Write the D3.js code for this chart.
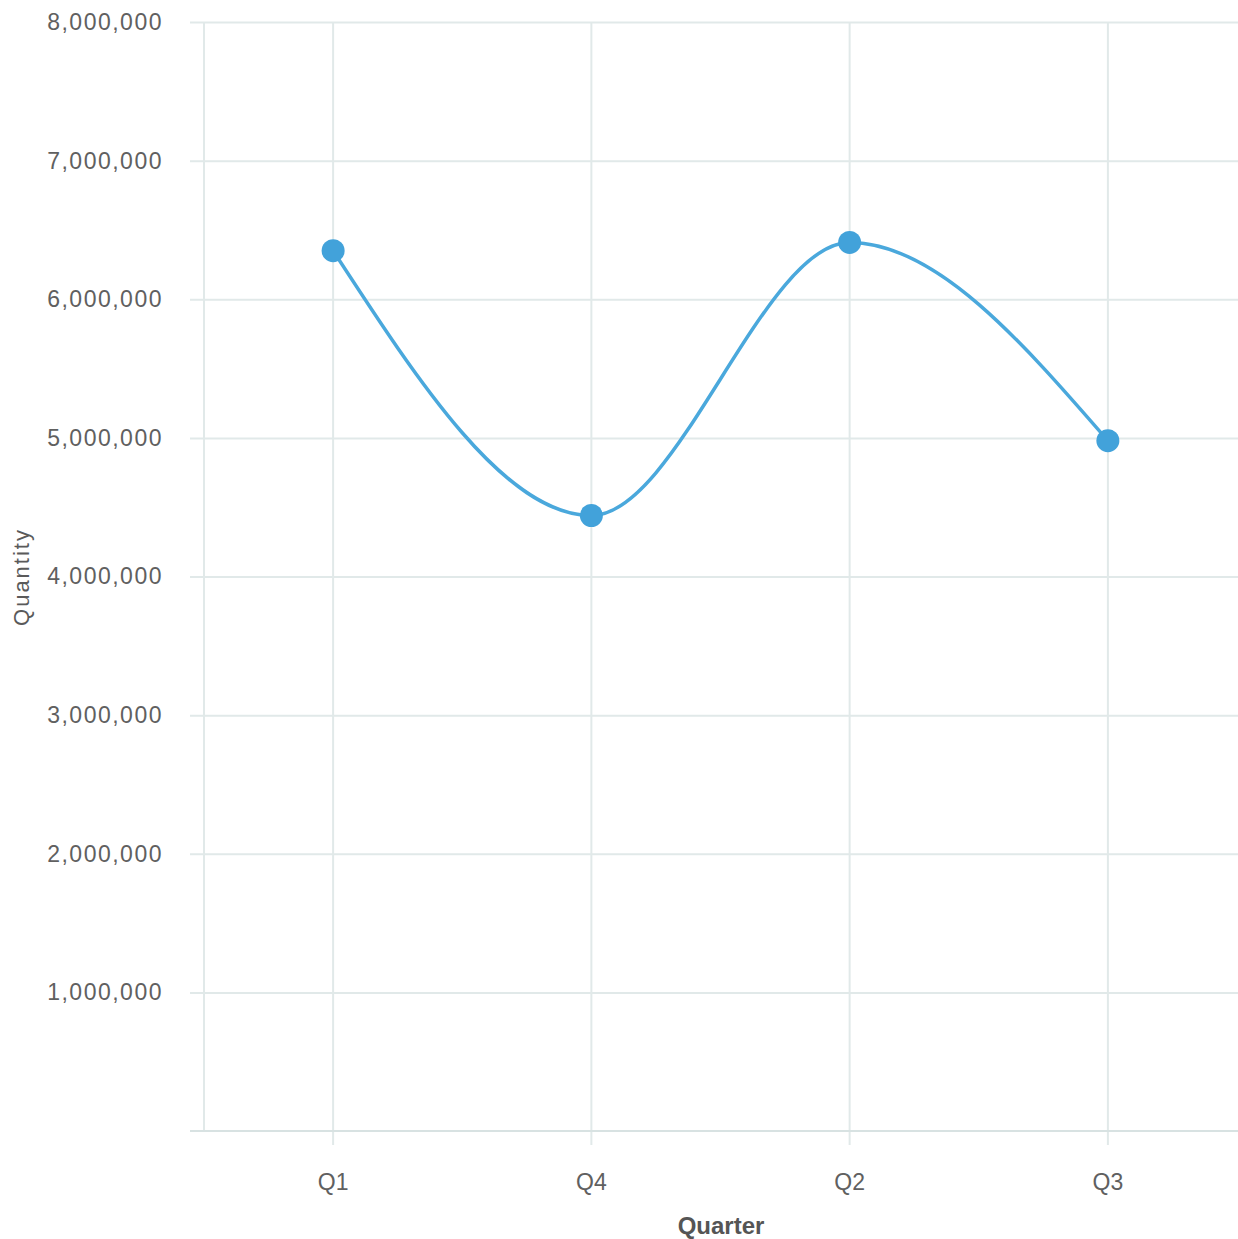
<!DOCTYPE html>
<html>
<head>
<meta charset="utf-8">
<script src="https://cdn.jsdelivr.net/npm/d3@7"></script>
<style>
  html, body { margin: 0; padding: 0; background: #fff; }
  svg { display: block; }
  text { font-family: "Liberation Sans", Arial, sans-serif; }
</style>
</head>
<body>
<script>
const quarters = ["Q1", "Q4", "Q2", "Q3"];
const quantities = [6350000, 4440000, 6410000, 4980000];
const yTicks = [1000000, 2000000, 3000000, 4000000, 5000000, 6000000, 7000000, 8000000];
const xTitle = "Quarter";
const yTitle = "Quantity";

const W = 1238, H = 1239;
const m = { left: 204, right: 1, top: 22, bottom: 108 };
const svg = d3.select("body").append("svg").attr("width", W).attr("height", H);

const x = d3.scaleBand().domain(quarters).range([m.left, W - m.right]);
const y = d3.scaleLinear().domain([0, 8000000]).range([H - m.bottom, m.top]);
const gridColor = "#e1e9e9";
const textColor = "#606060";

// horizontal grid + y axis
const gy = svg.append("g").attr("transform", `translate(${m.left},0)`)
  .call(d3.axisLeft(y).tickValues(yTicks).tickFormat(d3.format(",")).tickSize(14).tickPadding(27));
gy.select(".domain").remove();
gy.selectAll(".tick line").attr("stroke", gridColor).attr("stroke-width", 2)
  .attr("x2", -14).attr("x1", W - m.left);
gy.selectAll(".tick text").attr("fill", textColor).style("font-size", "23px").attr("letter-spacing", "1.5");

// vertical grid at category centers
svg.append("g").selectAll("line").data(quarters).join("line")
  .attr("x1", d => x(d) + x.bandwidth() / 2).attr("x2", d => x(d) + x.bandwidth() / 2)
  .attr("y1", m.top).attr("y2", H - m.bottom + 14)
  .attr("stroke", gridColor).attr("stroke-width", 2);

// left axis line
svg.append("line").attr("x1", m.left).attr("x2", m.left).attr("y1", m.top).attr("y2", H - m.bottom)
  .attr("stroke", gridColor).attr("stroke-width", 2);

// x axis
const gx = svg.append("g").attr("transform", `translate(0,${H - m.bottom})`)
  .call(d3.axisBottom(x).tickSize(0).tickPadding(43));
gx.select(".domain").remove();
gx.selectAll(".tick text").attr("fill", textColor).style("font-size", "23px");
svg.append("line").attr("x1", 190).attr("x2", W).attr("y1", y(0)).attr("y2", y(0))
  .attr("stroke", "#d8e2e2").attr("stroke-width", 2);

// titles
svg.append("text").attr("x", (m.left + W) / 2).attr("y", 1234).attr("text-anchor", "middle")
  .attr("fill", "#555").style("font-size", "24px").style("font-weight", "bold").text(xTitle);
svg.append("text").attr("transform", `translate(29,${577}) rotate(-90)`).attr("text-anchor", "middle")
  .attr("fill", "#5a5a5a").style("font-size", "22px").attr("letter-spacing", "2").text(yTitle);

// line
const pts = quarters.map((q, i) => [x(q) + x.bandwidth() / 2, y(quantities[i])]);
svg.append("path").datum(pts)
  .attr("d", d3.line().curve(d3.curveMonotoneX))
  .attr("fill", "none").attr("stroke", "#4aa8dc").attr("stroke-width", 3.5);
svg.append("g").selectAll("circle").data(pts).join("circle")
  .attr("cx", d => d[0]).attr("cy", d => d[1]).attr("r", 11.5).attr("fill", "#42a2da");
</script>
</body>
</html>
